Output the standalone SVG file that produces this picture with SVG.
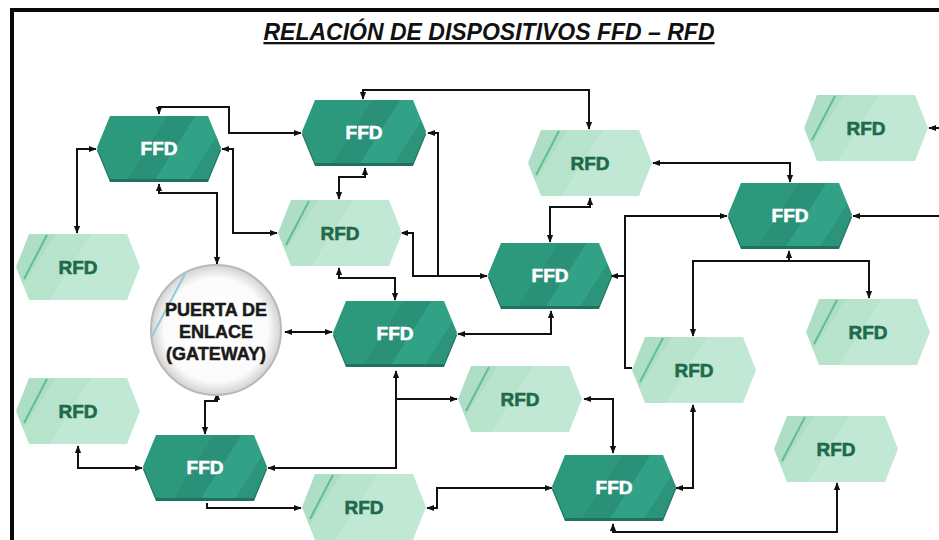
<svg xmlns="http://www.w3.org/2000/svg" xmlns:xlink="http://www.w3.org/1999/xlink" width="939" height="540" viewBox="0 0 939 540">
<style>
.frame{fill:none;stroke:#0a0a0a;stroke-width:4}
.title{font-family:"Liberation Sans",Arial,sans-serif;font-weight:bold;font-style:italic;font-size:23px;fill:#111;text-anchor:middle;text-decoration:underline}
.lbl{font-family:"Liberation Sans",Arial,sans-serif;font-weight:bold;font-size:19px;text-anchor:middle;stroke-width:0.6}
.ffd-t{fill:#ffffff;stroke:#ffffff}
.rfd-t{fill:#1f6a4b;stroke:#1f6a4b}
.gw-t{fill:#1a1a1a;stroke:#1a1a1a;font-size:18px;stroke-width:0.5}
.ffd-sh{fill:#1f735e}
.ffd-b{fill:url(#gFfd)}
.rfd-b{fill:url(#gRfd)}
.rfd-l{stroke:#5fbf8e;stroke-width:2}
.conn path{fill:none;stroke:#111;stroke-width:2;stroke-linejoin:miter}
.both{marker-start:url(#ah);marker-end:url(#ah)}
.st{marker-start:url(#ah)}
.en{marker-end:url(#ah)}
</style>
<defs>
<marker id="ah" viewBox="0 0 10 10" refX="9" refY="5" markerWidth="8" markerHeight="8" markerUnits="userSpaceOnUse" orient="auto-start-reverse">
<path d="M0,1 L10,5 L0,9 z" fill="#111"/>
</marker>
<linearGradient id="gFfd" gradientUnits="userSpaceOnUse" x1="-55" y1="-35" x2="55" y2="35">
<stop offset="0" stop-color="#2c987c"/>
<stop offset="0.42" stop-color="#2c987c"/>
<stop offset="0.42" stop-color="#2a9077"/>
<stop offset="0.6" stop-color="#2a9077"/>
<stop offset="0.6" stop-color="#32a286"/>
<stop offset="0.82" stop-color="#32a286"/>
<stop offset="0.82" stop-color="#2b947a"/>
<stop offset="1" stop-color="#2b947a"/>
</linearGradient>
<linearGradient id="gRfd" gradientUnits="userSpaceOnUse" x1="-55" y1="-35" x2="55" y2="35">
<stop offset="0" stop-color="#aedec5"/>
<stop offset="0.22" stop-color="#aedec5"/>
<stop offset="0.22" stop-color="#b8e4cd"/>
<stop offset="0.45" stop-color="#b8e4cd"/>
<stop offset="0.45" stop-color="#c0e8d4"/>
<stop offset="1" stop-color="#c0e8d4"/>
</linearGradient>
<radialGradient id="gGw" cx="0.5" cy="0.5" r="0.5">
<stop offset="0" stop-color="#ffffff"/>
<stop offset="0.8" stop-color="#fbfbfb"/>
<stop offset="1" stop-color="#d2d2d2"/>
</radialGradient>
<polygon id="hexF" points="-62,-1.5 -49,-33 49,-33 62,-1.5 49,30 -49,30"/>
<polygon id="hexR" points="-62,0 -49,-33 49,-33 62,0 49,33 -49,33"/>
<g id="ffd">
<use xlink:href="#hexF" class="ffd-sh" transform="translate(0,3)"/>
<use xlink:href="#hexF" class="ffd-b"/>
</g>
<g id="rfd">
<use xlink:href="#hexR" class="rfd-b"/>
<line x1="-54" y1="12" x2="-31" y2="-32" class="rfd-l"/>
</g>
</defs>

<rect x="0" y="0" width="939" height="540" fill="#ffffff"/>
<polyline class="frame" points="12,540 12,10 941,10"/>
<text class="title" x="489" y="40">RELACIÓN DE DISPOSITIVOS FFD – RFD</text>

<g class="conn" id="connectors">
<path class="both" d="M77,233 V149 H96"/>
<path class="both" d="M159,114 V107 H229 V133 H301"/>
<path class="both" d="M222,149 H233 V233 H277"/>
<path class="both" d="M159,184 V193 H217 V264"/>
<path class="both" d="M365,168 V177 H339 V199"/>
<path class="both" d="M363,99 V90 H589 V129"/>
<path class="both" d="M428,133 H438 V276 H487"/>
<path class="st" d="M401,233 H413 V276 H438"/>
<path class="both" d="M339,268 V278 H395 V300"/>
<path class="both" d="M285,332 H332"/>
<path class="both" d="M458,334 H551 V311"/>
<path class="both" d="M590,198 V207 H550 V242"/>
<path class="both" d="M653,163 H790 V182"/>
<path class="st" d="M727,216 H625 V368 H632"/>
<path class="st" d="M611,276 H625"/>
<path class="both" d="M693,336 V261 H869 V298"/>
<path class="st" d="M789,251 V261"/>
<path class="en" d="M941,216 H853"/>
<path class="en" d="M941,128 H929"/>
<path class="both" d="M396,371 V468 H268"/>
<path class="en" d="M396,399 H457"/>
<path class="both" d="M217,393 V401 H205 V434"/>
<path class="both" d="M78,446 V468 H142"/>
<path class="en" d="M207,503 V508 H301"/>
<path class="both" d="M427,508 H437 V488 H552"/>
<path class="both" d="M584,399 H613 V453"/>
<path class="both" d="M693,405 V488 H676"/>
<path class="both" d="M613,524 V532 H837 V483"/>
</g>

<g id="ffd1" transform="translate(159,149)"><use xlink:href="#ffd"/><text class="lbl ffd-t" x="0" y="6">FFD</text></g>
<g id="ffd2" transform="translate(364,133)"><use xlink:href="#ffd"/><text class="lbl ffd-t" x="0" y="6">FFD</text></g>
<g id="ffd3" transform="translate(395,334)"><use xlink:href="#ffd"/><text class="lbl ffd-t" x="0" y="6">FFD</text></g>
<g id="ffd4" transform="translate(550,276)"><use xlink:href="#ffd"/><text class="lbl ffd-t" x="0" y="6">FFD</text></g>
<g id="ffd5" transform="translate(790,216)"><use xlink:href="#ffd"/><text class="lbl ffd-t" x="0" y="6">FFD</text></g>
<g id="ffd6" transform="translate(205,468)"><use xlink:href="#ffd"/><text class="lbl ffd-t" x="0" y="6">FFD</text></g>
<g id="ffd7" transform="translate(614,488)"><use xlink:href="#ffd"/><text class="lbl ffd-t" x="0" y="6">FFD</text></g>

<g id="rfd1" transform="translate(78,267)"><use xlink:href="#rfd"/><text class="lbl rfd-t" x="0" y="7">RFD</text></g>
<g id="rfd2" transform="translate(340,233)"><use xlink:href="#rfd"/><text class="lbl rfd-t" x="0" y="7">RFD</text></g>
<g id="rfd3" transform="translate(590,163)"><use xlink:href="#rfd"/><text class="lbl rfd-t" x="0" y="7">RFD</text></g>
<g id="rfd4" transform="translate(866,128)"><use xlink:href="#rfd"/><text class="lbl rfd-t" x="0" y="7">RFD</text></g>
<g id="rfd5" transform="translate(868,332)"><use xlink:href="#rfd"/><text class="lbl rfd-t" x="0" y="7">RFD</text></g>
<g id="rfd6" transform="translate(694,370)"><use xlink:href="#rfd"/><text class="lbl rfd-t" x="0" y="7">RFD</text></g>
<g id="rfd7" transform="translate(520,399)"><use xlink:href="#rfd"/><text class="lbl rfd-t" x="0" y="7">RFD</text></g>
<g id="rfd8" transform="translate(836,449)"><use xlink:href="#rfd"/><text class="lbl rfd-t" x="0" y="7">RFD</text></g>
<g id="rfd9" transform="translate(78,411)"><use xlink:href="#rfd"/><text class="lbl rfd-t" x="0" y="7">RFD</text></g>
<g id="rfd10" transform="translate(364,507)"><use xlink:href="#rfd"/><text class="lbl rfd-t" x="0" y="7">RFD</text></g>

<g id="gateway" transform="translate(216,330)">
<circle cx="0" cy="0" r="65" fill="url(#gGw)" stroke="#b9b9b9" stroke-width="2"/>
<line x1="-65" y1="8" x2="-31" y2="-56" stroke="#8fcbe3" stroke-width="2"/>
<text class="lbl gw-t" x="0" y="-14">PUERTA DE</text>
<text class="lbl gw-t" x="0" y="8">ENLACE</text>
<text class="lbl gw-t" x="0" y="30">(GATEWAY)</text>
</g>
</svg>
